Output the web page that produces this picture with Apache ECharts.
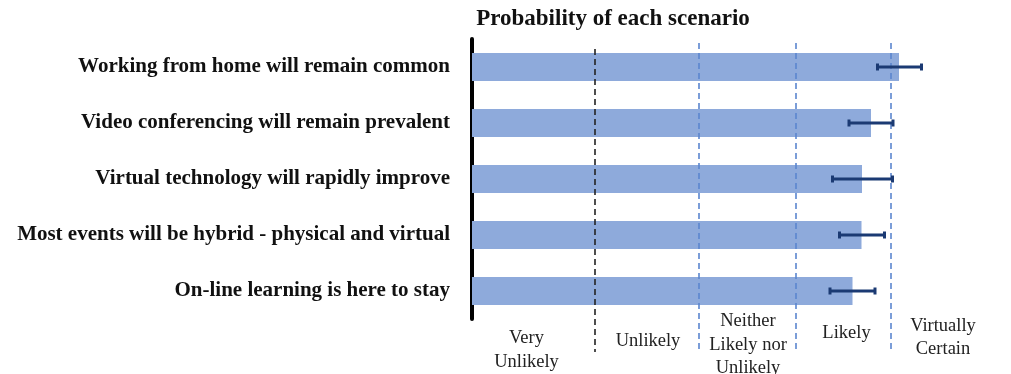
<!DOCTYPE html>
<html>
<head>
<meta charset="utf-8">
<script src="https://cdn.jsdelivr.net/npm/echarts@6/dist/echarts.min.js"></script>
<style>html,body{margin:0;padding:0;background:#fff;}#c{width:1011px;height:374px;}</style>
</head>
<body>
<div id="c"></div>
<script>
var categories = [
  'Working from home will remain common',
  'Video conferencing will remain prevalent',
  'Virtual technology will rapidly improve',
  'Most events will be hybrid - physical and virtual',
  'On-line learning is here to stay'
];
var probability = [85.4, 79.8, 78.0, 77.9, 76.1];
var errLow = [81.1, 75.4, 72.1, 73.5, 71.6];
var errHigh = [89.9, 84.2, 84.1, 82.5, 80.6];
var boundaries = [24.6, 45.4, 64.8, 83.8];
var zoneCenters = [10.9, 35.2, 55.2, 74.9, 94.2];
var zoneLabels = ['Very\nUnlikely', 'Unlikely', 'Neither\nLikely nor\nUnlikely', 'Likely', 'Virtually\nCertain'];

// layout: vertical offset (px below plot area) of each zone label's centre
var zoneLabelDy = [31, 22, 26, 14, 18.5];

var chart = echarts.init(document.getElementById('c'), null, {renderer: 'canvas'});
var serif = 'Liberation Serif';

var errData = categories.map(function (c, i) { return [i, errLow[i], errHigh[i]]; });
var lineData = boundaries.map(function (v, i) { return [v, i]; });
var zoneData = zoneCenters.map(function (v, i) { return [v, i]; });

chart.setOption({
  animation: false,
  title: {
    text: 'Probability of each scenario',
    left: 608, top: 3, textAlign: 'center',
    textStyle: {fontFamily: serif, fontWeight: 'bold', fontSize: 23, color: '#111'}
  },
  grid: {left: 472, top: 39, width: 500, height: 280, containLabel: false},
  xAxis: {
    type: 'value', min: 0, max: 100,
    axisLine: {show: false}, axisTick: {show: false}, splitLine: {show: false},
    axisLabel: {show: false}
  },
  yAxis: {
    type: 'category', data: categories, inverse: true,
    axisLine: {show: true, lineStyle: {color: '#000', width: 4}},
    axisTick: {show: false},
    axisLabel: {fontFamily: serif, fontWeight: 'bold', fontSize: 21, color: '#111', margin: 22}
  },
  series: [
    {
      type: 'bar', data: probability, barWidth: '50%',
      itemStyle: {color: '#8eaadb'}, z: 2
    },
    {
      type: 'custom', data: lineData, z: 3, clip: false,
      encode: {x: 0},
      renderItem: function (params, api) {
        var v = api.value(0);
        var idx = api.value(1);
        var x = api.coord([v, 0])[0];
        var cs = params.coordSys;
        var first = idx === 0;
        return {
          type: 'line',
          shape: {x1: x, y1: cs.y + (first ? 10 : 4), x2: x, y2: cs.y + cs.height + (first ? 33 : 32)},
          style: {stroke: first ? '#222' : '#5b86cf', lineWidth: 1.6, lineDash: [6, 4]}
        };
      }
    },
    {
      type: 'custom', data: zoneData, z: 3, clip: false,
      encode: {x: 0},
      renderItem: function (params, api) {
        var v = api.value(0);
        var idx = api.value(1);
        var x = api.coord([v, 0])[0];
        var cs = params.coordSys;
        return {
          type: 'text',
          x: x, y: cs.y + cs.height + zoneLabelDy[idx],
          style: {
            text: zoneLabels[idx], align: 'center', verticalAlign: 'middle',
            fontFamily: serif, fontSize: 18.5, lineHeight: 23.5, fill: '#222'
          }
        };
      }
    },
    {
      type: 'custom', data: errData, z: 4,
      encode: {y: 0, x: [1, 2]},
      renderItem: function (params, api) {
        var i = api.value(0);
        var p1 = api.coord([api.value(1), i]);
        var p2 = api.coord([api.value(2), i]);
        var st = {stroke: '#1b3a73', lineWidth: 3};
        var cap = 3.5;
        return {
          type: 'group',
          children: [
            {type: 'line', shape: {x1: p1[0], y1: p1[1], x2: p2[0], y2: p2[1]}, style: st},
            {type: 'line', shape: {x1: p1[0], y1: p1[1] - cap, x2: p1[0], y2: p1[1] + cap}, style: st},
            {type: 'line', shape: {x1: p2[0], y1: p2[1] - cap, x2: p2[0], y2: p2[1] + cap}, style: st}
          ]
        };
      }
    }
  ]
});
</script>
</body>
</html>
